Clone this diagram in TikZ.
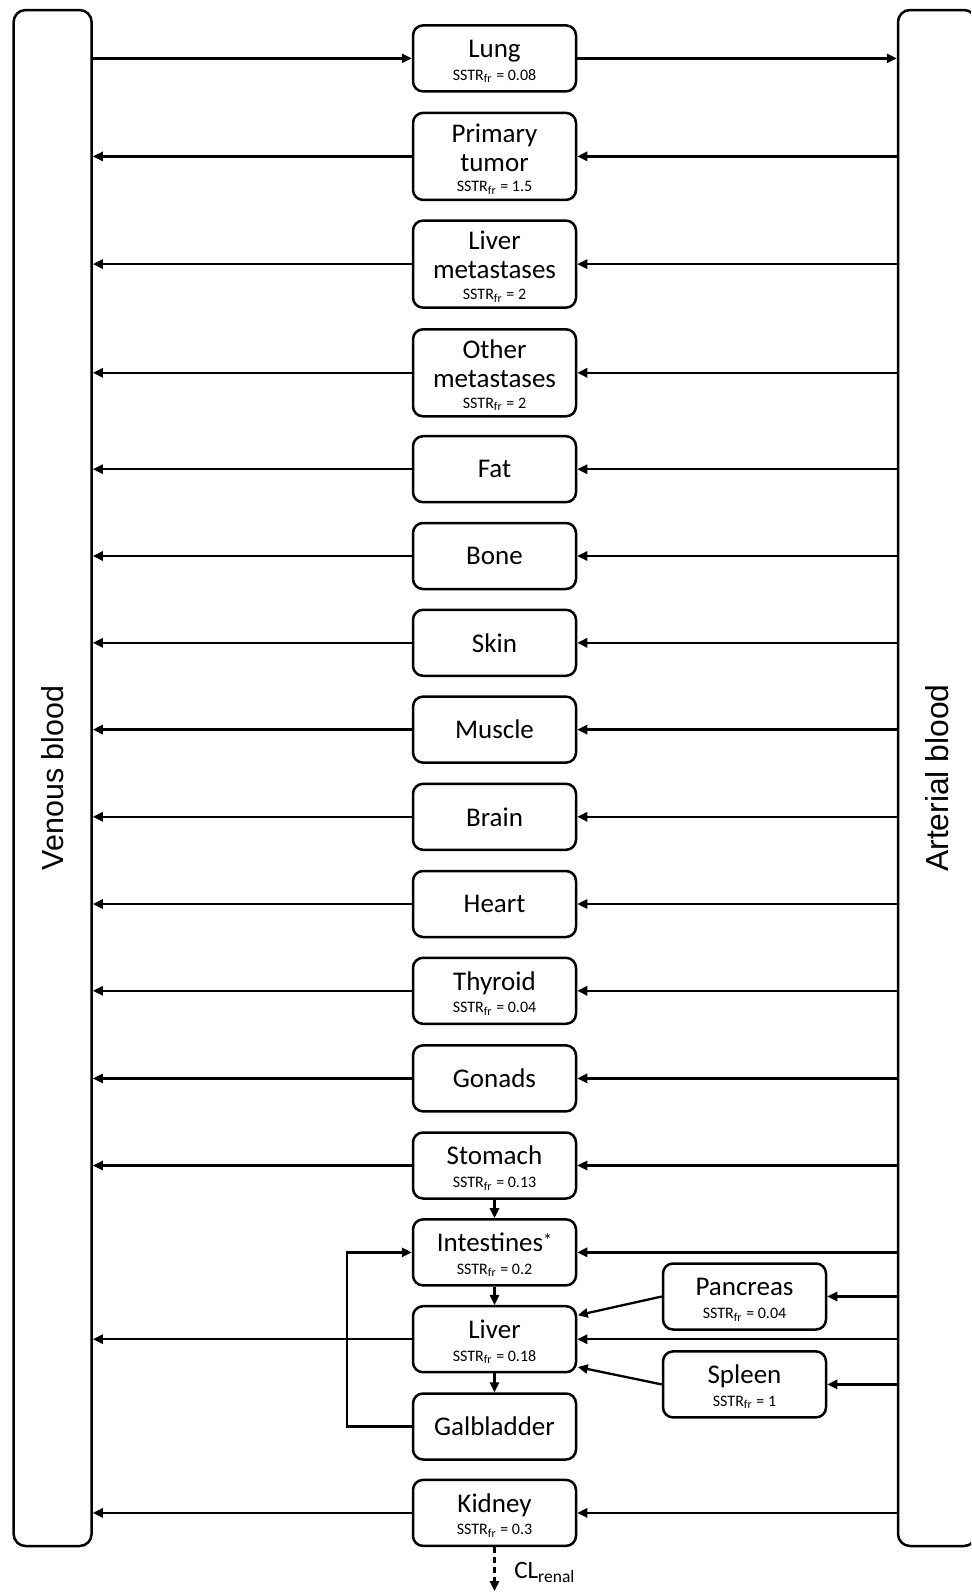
\documentclass[tikz,border=0pt]{standalone}
\usepackage{fontspec}
\setmainfont{Carlito}
\newfontfamily\arialf{Liberation Sans}
\usetikzlibrary{arrows.meta,calc}
\newcommand{\sstr}[1]{{\fontsize{8}{9.6}\selectfont SSTR\textsubscript{fr} = #1}}
\newcommand{\topstrut}{\rule{0pt}{12pt}}
\begin{document}
\begin{tikzpicture}[x=0.5pt,y=-0.5pt,
  organ/.style={draw, line width=1.25pt, rounded corners=5pt, minimum width=81.5pt,
    minimum height=33pt, inner sep=0pt, align=center, font=\fontsize{13.5}{14.5}\selectfont},
  tall/.style={minimum height=43.5pt},
  bar/.style={draw, line width=1.25pt, rounded corners=6pt, minimum width=39pt,
    minimum height=768pt, inner sep=0pt},
  barlabel/.style={rotate=90, inner sep=0pt},
  flow/.style={line width=1.15pt, -{Triangle[length=5pt,width=4.6pt]}},
  ]
\useasboundingbox (0,0) rectangle (971,1592);
\clip (0,0) rectangle (971,1592);
% blood bars
\node[bar] (ven) at (52.6,778) {};
\node[barlabel, font=\arialf\fontsize{15.2}{18}\selectfont] (venl) at (ven) {Venous blood};
\node[bar] (art) at (937,778) {};
\node[barlabel, font=\arialf\fontsize{15.9}{18}\selectfont] (artl) at (937.5,778) {Arterial blood};
% organs
\node[organ] (lung) at (494.5,58.4) {\topstrut Lung\\[-3.3pt]\sstr{0.08}};
\node[organ,tall] (prim) at (494.5,156.4) {\topstrut Primary\\tumor\\[-4.2pt]\sstr{1.5}};
\node[organ,tall] (livmet) at (494.5,264.1) {\topstrut Liver\\metastases\\[-4.2pt]\sstr{2}};
\node[organ,tall] (othmet) at (494.5,372.8) {\topstrut Other\\metastases\\[-4.2pt]\sstr{2}};
\node[organ] (fat) at (494.5,469.2) {Fat};
\node[organ] (bone) at (494.5,556) {Bone};
\node[organ] (skin) at (494.5,642.8) {Skin};
\node[organ] (muscle) at (494.5,729.6) {Muscle};
\node[organ] (brain) at (494.5,816.8) {Brain};
\node[organ] (heart) at (494.5,904) {Heart};
\node[organ] (thyroid) at (494.5,990.8) {\topstrut Thyroid\\[-3.3pt]\sstr{0.04}};
\node[organ] (gonads) at (494.5,1078.4) {Gonads};
\node[organ] (stomach) at (494.5,1165.5) {\topstrut Stomach\\[-3.3pt]\sstr{0.13}};
\node[organ] (intest) at (494.5,1252.4) {\topstrut Intestines{\fontsize{9}{9}\selectfont\raisebox{2.6pt}{*}}\\[-3.3pt]\sstr{0.2}};
\node[organ] (liver) at (494.5,1339.2) {\topstrut Liver\\[-3.3pt]\sstr{0.18}};
\node[organ] (galb) at (494.5,1426.5) {Galbladder};
\node[organ] (kidney) at (494.5,1512.9) {\topstrut Kidney\\[-3.3pt]\sstr{0.3}};
\node[organ] (pancreas) at (744.5,1296.5) {\topstrut Pancreas\\[-3.3pt]\sstr{0.04}};
\node[organ] (spleen) at (744.5,1384.4) {\topstrut Spleen\\[-3.3pt]\sstr{1}};
% lung
\draw[flow] (ven.east |- lung.west) -- (lung.west);
\draw[flow] (lung.east) -- (lung.east -| art.west);
% venous returns
\foreach \o in {prim,livmet,othmet,fat,bone,skin,muscle,brain,heart,thyroid,gonads,stomach,liver,kidney}
  \draw[flow] (\o.west) -- (\o.west -| ven.east);
% arterial supply
\foreach \o in {prim,livmet,othmet,fat,bone,skin,muscle,brain,heart,thyroid,gonads,stomach,intest,liver,kidney,pancreas,spleen}
  \draw[flow] (\o.east -| art.west) -- (\o.east);
% gut chain
\draw[flow] (stomach) -- (intest);
\draw[flow] (intest) -- (liver);
\draw[flow] (liver) -- (galb);
\coordinate (loopx) at (347,0);
\draw[flow] (galb.west) -- (loopx |- galb.west) |- (intest.west);
\draw[flow] (pancreas.west) -- ($(liver.east)+(0.5,-24)$);
\draw[flow] (spleen.west) -- ($(liver.east)+(0.5,27.8)$);
% renal clearance
\coordinate (clend) at (494.5,1591);
\draw[flow, dash pattern=on 3pt off 2pt] (kidney.south) -- (clend);
\node[anchor=west, inner sep=0pt, font=\fontsize{12.5}{15}\selectfont] (cl) at (514,1572) {CL\textsubscript{renal}};
\end{tikzpicture}
\end{document}
